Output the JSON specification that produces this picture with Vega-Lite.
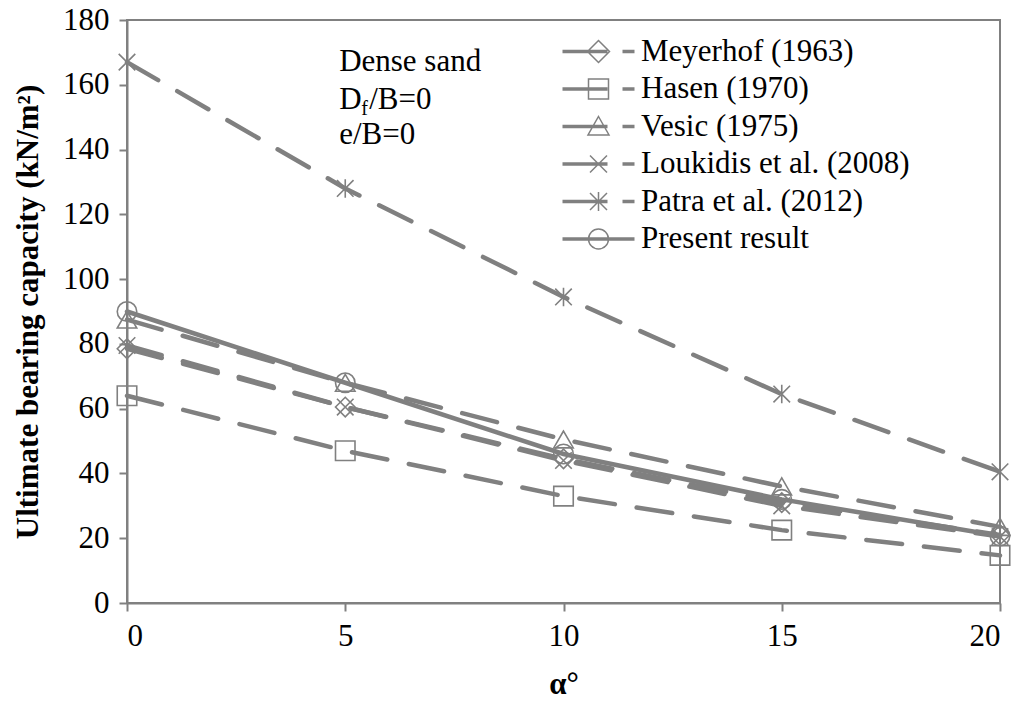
{
  "$schema": "https://vega.github.io/schema/vega-lite/v6.json",
  "width": 873,
  "height": 583,
  "autosize": "none",
  "padding": {"left": 127, "top": 20, "right": 21, "bottom": 99},
  "background": "white",
  "datasets": {
    "series": [
      {"series": "Meyerhof (1963)", "alpha": 0, "q": 78.5},
      {"series": "Meyerhof (1963)", "alpha": 5, "q": 60.5},
      {"series": "Meyerhof (1963)", "alpha": 10, "q": 44.5},
      {"series": "Meyerhof (1963)", "alpha": 15, "q": 31},
      {"series": "Meyerhof (1963)", "alpha": 20, "q": 21},
      {"series": "Hasen (1970)", "alpha": 0, "q": 64},
      {"series": "Hasen (1970)", "alpha": 5, "q": 47},
      {"series": "Hasen (1970)", "alpha": 10, "q": 33},
      {"series": "Hasen (1970)", "alpha": 15, "q": 22.5},
      {"series": "Hasen (1970)", "alpha": 20, "q": 14.7},
      {"series": "Vesic (1975)", "alpha": 0, "q": 87.5},
      {"series": "Vesic (1975)", "alpha": 5, "q": 68},
      {"series": "Vesic (1975)", "alpha": 10, "q": 50.5},
      {"series": "Vesic (1975)", "alpha": 15, "q": 36},
      {"series": "Vesic (1975)", "alpha": 20, "q": 23.5},
      {"series": "Loukidis et al. (2008)", "alpha": 0, "q": 79.5},
      {"series": "Loukidis et al. (2008)", "alpha": 5, "q": 60.5},
      {"series": "Loukidis et al. (2008)", "alpha": 10, "q": 44},
      {"series": "Loukidis et al. (2008)", "alpha": 15, "q": 30},
      {"series": "Loukidis et al. (2008)", "alpha": 20, "q": 20.5},
      {"series": "Patra et al. (2012)", "alpha": 0, "q": 167},
      {"series": "Patra et al. (2012)", "alpha": 5, "q": 128},
      {"series": "Patra et al. (2012)", "alpha": 10, "q": 94.5},
      {"series": "Patra et al. (2012)", "alpha": 15, "q": 64.5},
      {"series": "Patra et al. (2012)", "alpha": 20, "q": 40.5},
      {"series": "Present result", "alpha": 0, "q": 90},
      {"series": "Present result", "alpha": 5, "q": 68},
      {"series": "Present result", "alpha": 10, "q": 46},
      {"series": "Present result", "alpha": 15, "q": 32},
      {"series": "Present result", "alpha": 20, "q": 20.7}
    ],
    "notes": [
      {"x": 4.86, "y": 167, "label": "Dense sand"},
      {"x": 4.86, "y": 155.3, "label": "D"},
      {"x": 4.86, "y": 144.5, "label": "e/B=0"}
    ],
    "sub": [{"x": 4.86, "y": 155.3, "label": "f"}],
    "after": [{"x": 4.86, "y": 155.3, "label": "/B=0"}]
  },
  "layer": [
    {
      "data": {"name": "series"},
      "transform": [{"filter": "datum.series !== 'Present result'"}],
      "mark": {"type": "line", "color": "#808080", "strokeWidth": 4.5, "strokeCap": "round", "strokeDash": [36, 22]},
      "encoding": {
        "x": {"field": "alpha", "type": "quantitative", "scale": {"domain": [0, 20]},
          "axis": {"values": [0, 5, 10, 15, 20], "title": "α°", "grid": false, "tickSize": 8, "labelPadding": 10, "titlePadding": 18}},
        "y": {"field": "q", "type": "quantitative", "scale": {"domain": [0, 180]},
          "axis": {"values": [0, 20, 40, 60, 80, 100, 120, 140, 160, 180], "title": "Ultimate bearing capacity (kN/m²)", "grid": false, "tickSize": 8, "labelPadding": 10, "titlePadding": 18}},
        "detail": {"field": "series", "type": "nominal"}
      }
    },
    {
      "data": {"name": "series"},
      "transform": [{"filter": "datum.series === 'Present result'"}],
      "mark": {"type": "line", "color": "#808080", "strokeWidth": 4.5, "strokeCap": "round"},
      "encoding": {
        "x": {"field": "alpha", "type": "quantitative"},
        "y": {"field": "q", "type": "quantitative"}
      }
    },
    {
      "data": {"name": "series"},
      "mark": {"type": "point", "filled": false, "color": "#808080", "strokeWidth": 1.6, "size": 380, "opacity": 1},
      "encoding": {
        "x": {"field": "alpha", "type": "quantitative"},
        "y": {"field": "q", "type": "quantitative"},
        "shape": {"field": "series", "type": "nominal", "legend": null,
          "scale": {
            "domain": ["Meyerhof (1963)", "Hasen (1970)", "Vesic (1975)", "Loukidis et al. (2008)", "Patra et al. (2012)", "Present result"],
            "range": ["diamond", "square", "triangle-up", "M-0.85,-0.85L0.85,0.85M-0.85,0.85L0.85,-0.85", "M-0.85,-0.85L0.85,0.85M-0.85,0.85L0.85,-0.85M0,-0.95L0,0.95", "circle"]
          }}
      }
    },
    {
      "data": {"name": "series"},
      "mark": {"type": "point", "filled": false, "color": "#808080", "strokeWidth": 1.5, "size": 400, "opacity": 0},
      "encoding": {
        "x": {"field": "alpha", "type": "quantitative"},
        "y": {"field": "q", "type": "quantitative"},
        "shape": {"field": "series", "type": "nominal",
          "scale": {
            "domain": ["Meyerhof (1963)", "Hasen (1970)", "Vesic (1975)", "Loukidis et al. (2008)", "Patra et al. (2012)", "Present result"],
            "range": [
              "M-3.6,-0.1H0.9M-3.6,0H0.9M-3.6,0.1H0.9M2.4,-0.1H3.6M2.4,0H3.6M2.4,0.1H3.6M-1.1,0L0,-1.1L1.1,0L0,1.1Z",
              "M-3.6,-0.1H0.9M-3.6,0H0.9M-3.6,0.1H0.9M2.4,-0.1H3.6M2.4,0H3.6M2.4,0.1H3.6M-1,-1H1V1H-1Z",
              "M-3.6,-0.1H0.9M-3.6,0H0.9M-3.6,0.1H0.9M2.4,-0.1H3.6M2.4,0H3.6M2.4,0.1H3.6M0,-1L1.05,0.85H-1.05Z",
              "M-3.6,-0.1H0.9M-3.6,0H0.9M-3.6,0.1H0.9M2.4,-0.1H3.6M2.4,0H3.6M2.4,0.1H3.6M-0.85,-0.85L0.85,0.85M-0.85,0.85L0.85,-0.85",
              "M-3.6,-0.1H0.9M-3.6,0H0.9M-3.6,0.1H0.9M2.4,-0.1H3.6M2.4,0H3.6M2.4,0.1H3.6M-0.85,-0.85L0.85,0.85M-0.85,0.85L0.85,-0.85M0,-0.95L0,0.95",
              "M-3.6,-0.1H3.6M-3.6,0H3.6M-3.6,0.1H3.6M-1,0A1,1,0,1,0,1,0A1,1,0,1,0,-1,0"
            ]
          },
          "legend": {
            "orient": "none", "legendX": 456, "legendY": 16, "padding": 0, "title": null,
            "labelFont": "Liberation Serif", "labelFontSize": 31, "labelColor": "black", "labelLimit": 0,
            "labelOffset": 27, "symbolSize": 400, "symbolStrokeColor": "#808080", "symbolStrokeWidth": 1.5,
            "symbolFillColor": "transparent", "rowPadding": 5.5,
            "encode": {"symbols": {"update": {"opacity": {"value": 1}}}}
          }}
      }
    },
    {
      "data": {"name": "notes"},
      "mark": {"type": "text", "align": "left", "baseline": "middle", "font": "Liberation Serif", "fontSize": 31, "color": "black"},
      "encoding": {
        "x": {"field": "x", "type": "quantitative"},
        "y": {"field": "y", "type": "quantitative"},
        "text": {"field": "label"}
      }
    },
    {
      "data": {"name": "sub"},
      "mark": {"type": "text", "align": "left", "baseline": "middle", "font": "Liberation Serif", "fontSize": 20, "color": "black", "dx": 22, "dy": 9},
      "encoding": {
        "x": {"field": "x", "type": "quantitative"},
        "y": {"field": "y", "type": "quantitative"},
        "text": {"field": "label"}
      }
    },
    {
      "data": {"name": "after"},
      "mark": {"type": "text", "align": "left", "baseline": "middle", "font": "Liberation Serif", "fontSize": 31, "color": "black", "dx": 30},
      "encoding": {
        "x": {"field": "x", "type": "quantitative"},
        "y": {"field": "y", "type": "quantitative"},
        "text": {"field": "label"}
      }
    }
  ],
  "resolve": {"scale": {"shape": "independent"}},
  "config": {
    "font": "Liberation Serif",
    "view": {"stroke": "#808080", "strokeWidth": 2},
    "axis": {
      "domainColor": "#808080", "domainWidth": 2, "tickColor": "#808080", "tickWidth": 2,
      "labelFont": "Liberation Serif", "labelFontSize": 31, "labelColor": "black",
      "titleFont": "Liberation Serif", "titleFontSize": 31, "titleFontWeight": "bold", "titleColor": "black"
    }
  }
}
